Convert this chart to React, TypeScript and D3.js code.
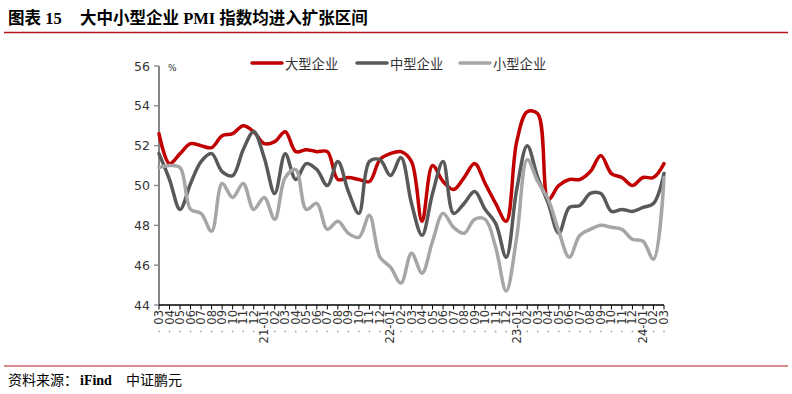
import * as d3 from "d3";

// month labels, 2020-03 .. 2024-03
const months = [
  "03", "04", "05", "06", "07", "08", "09", "10", "11", "12",
  "21-01", "02", "03", "04", "05", "06", "07", "08", "09", "10", "11", "12",
  "22-01", "02", "03", "04", "05", "06", "07", "08", "09", "10", "11", "12",
  "23-01", "02", "03", "04", "05", "06", "07", "08", "09", "10", "11", "12",
  "24-01", "02", "03",
];

const large = [
  52.6, 51.1, 51.6, 52.1, 52.0, 51.9, 52.5, 52.6, 53.0, 52.7,
  52.1, 52.2, 52.7, 51.7, 51.8, 51.7, 51.7, 50.3, 50.4, 50.3, 50.2, 51.3,
  51.6, 51.7, 51.2, 48.2, 51.0, 50.2, 49.8, 50.4, 51.1, 50.1, 49.1, 48.2,
  52.2, 53.7, 53.6, 49.3, 50.0, 50.3, 50.3, 50.7, 51.5, 50.6, 50.4, 50.0,
  50.4, 50.4, 51.1,
];

const medium = [
  51.6, 50.3, 48.8, 50.1, 51.2, 51.6, 50.7, 50.5, 51.8, 52.7,
  51.4, 49.6, 51.6, 50.3, 51.1, 50.8, 50.0, 51.2, 49.7, 48.6, 51.2, 51.3,
  50.5, 51.4, 49.1, 47.5, 49.6, 51.2, 48.6, 49.1, 49.7, 48.8, 48.1, 46.4,
  49.8, 52.0, 50.4, 49.1, 47.6, 48.9, 49.0, 49.6, 49.6, 48.7, 48.8, 48.7,
  48.9, 49.1, 50.6,
];

const small = [
  50.9, 51.0, 50.9, 48.8, 48.6, 47.7, 50.1, 49.4, 50.1, 48.8,
  49.4, 48.3, 50.4, 50.8, 48.8, 49.1, 47.8, 48.2, 47.6, 47.4, 48.5, 46.4,
  45.9, 45.1, 46.6, 45.6, 47.2, 48.6, 47.9, 47.6, 48.3, 48.3, 46.9, 44.7,
  47.4, 51.3, 50.2, 49.3, 47.7, 46.4, 47.5, 47.8, 48.0, 47.9, 47.8, 47.3,
  47.2, 46.3, 50.4,
];

const yTicks = [44, 46, 48, 50, 52, 54, 56];

const series = [
  { name: "大型企业", color: "#C00000", values: large, lx: 252 },
  { name: "中型企业", color: "#595959", values: medium, lx: 357 },
  { name: "小型企业", color: "#A6A6A6", values: small, lx: 460 },
];

const W = 792;
const H = 394;

export default function App() {
  const x = d3.scaleLinear().domain([0, months.length - 1]).range([159, 664]);
  const y = d3.scaleLinear().domain([44, 56]).range([305, 66]);

  const line = d3
    .line<number>()
    .x((_, i) => x(i))
    .y((d) => y(d))
    .curve(d3.curveCatmullRom.alpha(0.5));

  const tickFont = "'DejaVu Sans', sans-serif";
  const cjk = "'Noto Sans CJK SC', sans-serif";

  return (
    <svg
      width={W}
      height={H}
      style={{ position: "absolute", left: 0, top: 0, background: "#fff" }}
    >
      {/* title */}
      <g fontFamily={`'Liberation Serif', ${cjk}`} fontWeight="bold" fontSize={16.5} fill="#000">
        <text x={8} y={24}>图表 15</text>
        <text x={80} y={24}>大中小型企业 PMI 指数均进入扩张区间</text>
      </g>
      <line x1={4} x2={788} y1={32.5} y2={32.5} stroke="#B3161C" strokeWidth={1.5} />

      {/* y axis */}
      <line x1={159} x2={159} y1={y(56)} y2={y(44)} stroke="#868686" strokeWidth={2} />
      {yTicks.map((t) => (
        <g key={t}>
          <line x1={154} x2={159} y1={y(t)} y2={y(t)} stroke="#868686" strokeWidth={1.3} />
          <text
            x={150}
            y={y(t)}
            textAnchor="end"
            dominantBaseline="central"
            fontFamily={tickFont}
            fontSize={12.5}
            fill="#333"
          >
            {t}
          </text>
        </g>
      ))}
      <text x={168} y={71} fontFamily={tickFont} fontSize={9} fill="#333">%</text>

      {/* x axis */}
      <line x1={159} x2={664} y1={305} y2={305} stroke="#000" strokeWidth={1.3} />
      {months.map((m, i) => (
        <g key={i}>
          <line x1={x(i)} x2={x(i)} y1={305} y2={309.5} stroke="#000" strokeWidth={1} />
          <text
            transform={`translate(${x(i)},310) rotate(-90)`}
            textAnchor="end"
            dominantBaseline="central"
            fontFamily={tickFont}
            fontSize={11.5}
            fill="#333"
          >
            {m}
          </text>
          {m.length === 2 && <circle cx={x(i)} cy={331.5} r={0.9} fill="#aaa" />}
        </g>
      ))}

      {/* series */}
      {series.map((s) => (
        <path
          key={s.name}
          d={line(s.values) ?? ""}
          fill="none"
          stroke={s.color}
          strokeWidth={3.5}
          strokeLinejoin="round"
          strokeLinecap="round"
        />
      ))}

      {/* legend */}
      {series.map((s) => (
        <g key={s.name}>
          <line x1={s.lx} x2={s.lx + 30} y1={63} y2={63} stroke={s.color} strokeWidth={3.5} strokeLinecap="round" />
          <text x={s.lx + 33} y={63} dominantBaseline="central" fontFamily={cjk} fontSize={13.3} fill="#333">
            {s.name}
          </text>
        </g>
      ))}

      {/* source */}
      <line x1={4} x2={788} y1={366} y2={366} stroke="#B3161C" strokeWidth={1.2} />
      <text x={8} y={385} fontFamily={cjk} fontSize={14} fill="#000">资料来源：</text>
      <text x={80} y={385} fontFamily="'Liberation Serif', serif" fontSize={14} fontWeight="bold" fill="#000">iFind</text>
      <text x={126} y={385} fontFamily={cjk} fontSize={14} fill="#000">中证鹏元</text>
    </svg>
  );
}
